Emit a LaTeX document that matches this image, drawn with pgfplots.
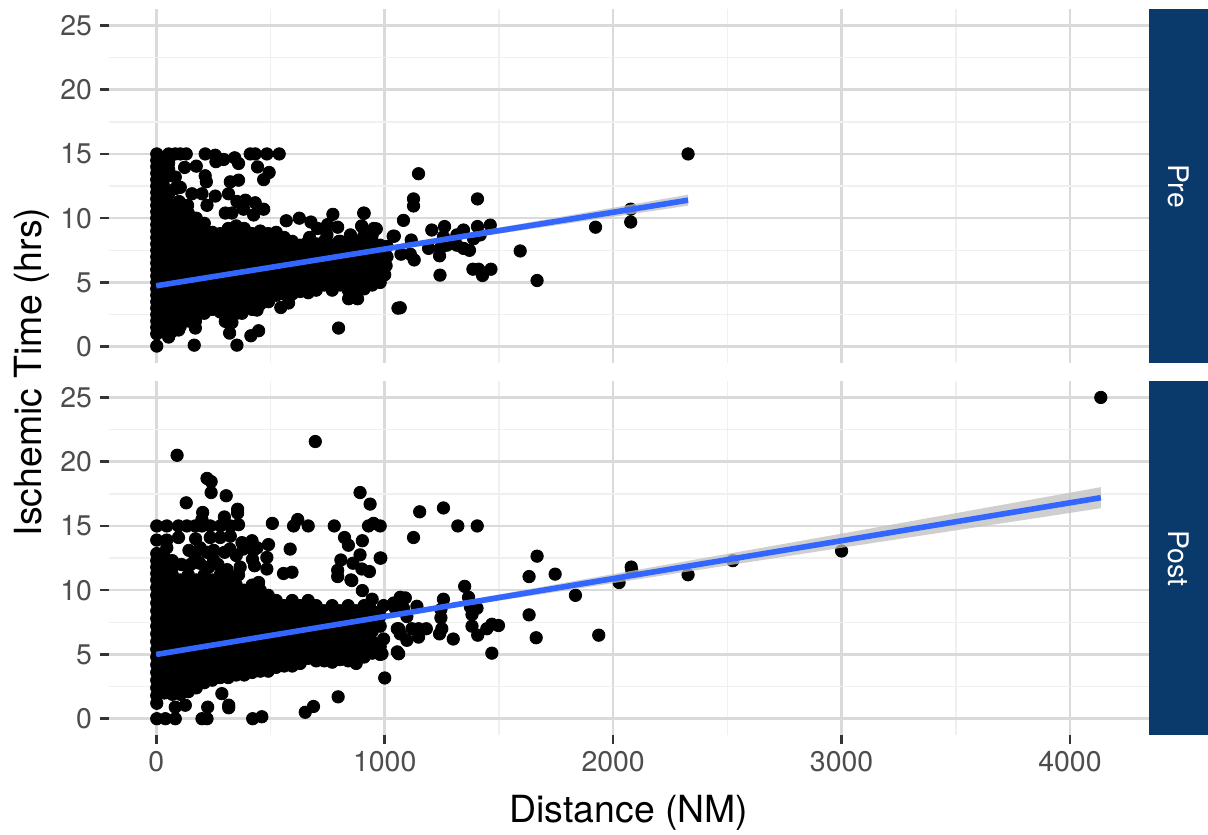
\documentclass[border=0pt]{standalone}
\usepackage{fontspec}
\setmainfont{TeX Gyre Heros}
\usepackage{pgfplots}
\pgfplotsset{compat=1.18}
\definecolor{majgrid}{HTML}{DADADA}
\definecolor{mingrid}{HTML}{F0F0F0}
\definecolor{tickc}{HTML}{333333}
\definecolor{labc}{HTML}{4D4D4D}
\definecolor{stripc}{HTML}{0A3A6B}
\definecolor{fitblue}{HTML}{3366FF}
\pgfplotsset{
  panel/.style={
    scale only axis, width=519.85pt, height=176.85pt, anchor=south west,
    clip mode=individual,
    xmin=-205.8, xmax=4346, ymin=-1.245, ymax=26.28,
    xtick={0,1000,2000,3000,4000},
    minor xtick={500,1500,2500,3500},
    ytick={0,5,10,15,20,25},
    minor ytick={2.5,7.5,12.5,17.5,22.5},
    grid=both,
    major grid style={draw=majgrid,line width=1.25pt},
    minor grid style={draw=mingrid,line width=0.8pt},
    axis line style={draw=none},
    tick align=outside,
    xtick pos=bottom, ytick pos=left,
    major tick length=4.7pt, minor tick length=0pt,
    ytick style={draw=tickc,line width=1.3pt},
    xtick style={draw=tickc,line width=1.3pt},
    minor tick style={draw=none},
    tick label style={font=\fontsize{14.2pt}{17pt}\selectfont,text=labc},
    yticklabel style={xshift=-0.5pt},
    /pgf/number format/assume math mode=true,
    /pgf/number format/1000 sep={},
  },
  pts/.style={only marks,mark=*,mark size=3.1pt,black,mark options={fill=black,draw=none}},
}
\begin{document}
\begin{tikzpicture}[x=1pt,y=1pt]
\useasboundingbox (0,0) rectangle (604,417);
% ---------- Pre
\begin{axis}[panel, at={(54.65pt,235.65pt)},
  xticklabels={}, xtick style={draw=none}]
\addplot[pts] coordinates {
(2,0.05)(2,1)(2,1.5)(2,2)(2,2.5)(2,3)(2,3.5)(2,4)(2,4.5)(2,5)(2,5.5)(2,6)(2,6.5)(2,7)(2,7.5)(2,8)(2,8.5)(2,9)(2,9.5)(2,10)(2,10.5)(2,11)(2,11.5)(2,12)(2,12.5)(2,13)(2,13.5)(2,14)(2,14.5)(2,15)
(30,11.5)(30,12)(30,12.6)(30,13.2)(30,13.8)(30,14.4)(54,11.9)(54,13.3)(54,13.8)(54,14.3)(54,15)(83,13.2)(83,15)(83,12.3)(105,15)(131,15)(105,12.4)
(214,15)(258,14.9)(261,14.4)(295,14.57)(343,14.7)(360,14.26)(411,15)(433,15)(484,15)(538,15)(443,13.99)(494,13.56)(470,13)(124,13.95)(175,14.05)(214,13.3)(219,12.83)(324,12.83)(360,12.96)(156,11.9)(200,11.9)(258,11.72)(316,11.9)(40,11.9)(222,11)(100,11.3)(137,11)(353,11.3)(390,11.4)(433,11.2)(470,10.7)(382,10.7)(302,10.4)(331,10.4)(426,10.25)
(569,9.8)(626,10)(677,9.7)(773,10.3)(908,10.4)(899,9.4)(794,9.3)(750,9.5)(706,9.2)(952,9.2)(945,8.7)(908,8.6)(850,8.7)(800,8.2)(1037,8.6)(671,8.5)(747,8.7)
(842,3.73)(881,3.73)(798,1.45)(1058,3)(545,3.05)(579,3.4)(375,2.6)(441,2.85)(491,3.5)(448,1.24)(414,0.85)(166,0.12)(353,0.12)(321,1.06)(171,1.45)(171,1.97)(302,1.97)(331,1.88)(54,0.75)(98,1.3)
(1148,13.46)(1126,11.5)(1126,10.95)(1406,11.5)(1082,9.83)(910,10.38)(900,9.35)(963,9.17)(1042,8.6)(1206,9.08)(1262,9.35)(1345,9.08)(1316,8.7)(1406,9.35)(1462,9.46)(1116,8.3)(1257,8.56)(1257,8.05)(1389,8.4)(1418,8.7)(1192,7.65)(1243,7.65)(1272,7.9)(1316,7.9)(1345,7.65)(1371,7.5)(1240,7.07)(1071,7.2)(1112,7.2)(1129,6.75)(1593,7.45)(1667,5.15)(1386,6.03)(1411,6.03)(1428,5.54)(1465,6.03)(1242,5.57)(1068,3.03)(1923,9.3)(2077,10.7)(2077,9.7)(2328,15)(1006,6.3)
(35,1.2)(35,2)(35,2.8)(35,3.6)(35,4.4)(35,5.2)(35,6)(35,6.8)(35,7.6)(35,8.4)(35,9.2)(35,10)(35,10.8)
(70,1.2)(70,1.6)(70,2.4)(70,3.2)(70,4)(70,4.8)(70,5.6)(70,6.4)(70,7.2)(70,8)(70,8.8)(70,9.6)(70,10.4)(70,11)
(105,1.6)(105,2)(105,2.8)(105,3.6)(105,4.4)(105,5.2)(105,6)(105,6.8)(105,7.6)(105,8.4)(105,9.2)(105,10)(105,10.8)
(140,2)(140,2.4)(140,3.2)(140,4)(140,4.8)(140,5.6)(140,6.4)(140,7.2)(140,8)(140,8.8)(140,9.6)(140,10.4)
(175,2.4)(175,2.8)(175,3.6)(175,4.4)(175,5.2)(175,6)(175,6.8)(175,7.6)(175,8.4)(175,9.2)(175,10)
(210,2.6)(210,3.2)(210,4)(210,4.8)(210,5.6)(210,6.4)(210,7.2)(210,8)(210,8.8)(210,9.6)
(245,2.9)(245,3.6)(245,4.4)(245,5.2)(245,6)(245,6.8)(245,7.6)(245,8.4)(245,8.9)
(280,2.7)(280,3.2)(280,4)(280,4.8)(280,5.6)(280,6.4)(280,7.2)(280,8)(280,8.8)
(315,2.4)(315,2.8)(315,3.6)(315,4.4)(315,5.2)(315,6)(315,6.8)(315,7.6)(315,8.4)(315,9.2)
(350,2.6)(350,3.2)(350,4)(350,4.8)(350,5.6)(350,6.4)(350,7.2)(350,8)(350,8.8)(350,9.4)
(385,3)(385,3.6)(385,4.4)(385,5.2)(385,6)(385,6.8)(385,7.6)(385,8.4)(385,9.2)
(420,2.9)(420,3.2)(420,4)(420,4.8)(420,5.6)(420,6.4)(420,7.2)(420,8)(420,8.8)
(455,3.3)(455,3.6)(455,4.4)(455,5.2)(455,6)(455,6.8)(455,7.6)(455,8.4)(455,9)
(490,3.6)(490,4)(490,4.8)(490,5.6)(490,6.4)(490,7.2)(490,8)(490,8.8)
(525,4)(525,4.4)(525,5.2)(525,6)(525,6.8)(525,7.6)(525,8.4)(525,8.9)
(560,4.1)(560,4.4)(560,4.8)(560,5.6)(560,6.4)(560,7.2)(560,8)(560,8.5)
(595,4.1)(595,4.4)(595,5.2)(595,6)(595,6.8)(595,7.6)(595,8.2)
(630,4.3)(630,4.8)(630,5.6)(630,6.4)(630,7.2)(630,7.9)
(665,4.2)(665,4.4)(665,5.2)(665,6)(665,6.8)(665,7.6)(665,8.2)
(700,4.4)(700,4.8)(700,5.6)(700,6.4)(700,7.2)(700,8)
(735,4.8)(735,5.2)(735,6)(735,6.8)(735,7.6)(735,8.2)
(770,4.4)(770,4.8)(770,5.6)(770,6.4)(770,7.2)(770,7.9)
(805,4.8)(805,5.2)(805,6)(805,6.8)(805,7.6)(805,8.2)
(840,4.4)(840,4.8)(840,5.6)(840,6.4)(840,7.2)(840,7.9)
(875,4.6)(875,5.2)(875,6)(875,6.8)(875,7.6)(875,8.2)
(910,4.5)(910,4.8)(910,5.6)(910,6.4)(910,7.2)(910,8)
(945,4.8)(945,5.2)(945,6)(945,6.8)(945,7.6)(945,8.2)
(980,5)(980,5.6)(980,6.4)(980,7.2)(980,7.9)
(1000,5.6)(1010,7)(1010,7.8)
};
\addplot[draw=none,fill=gray!50,fill opacity=0.75] coordinates {
(0,4.84)(300,5.66)(1000,7.72)(2328,11.83)(2328,10.97)(1000,7.48)(300,5.54)(0,4.64)} -- cycle;
\addplot[fitblue,line width=2.8pt,line cap=butt] coordinates {(0,4.74)(2328,11.4)};
\end{axis}
% ---------- Post
\begin{axis}[panel, at={(54.65pt,49.65pt)}]
\addplot[pts] coordinates {
(2,0)(40,0)(83,0)(200,0)(222,0)(422,0)(462,0.15)(83,0.9)(127,1.05)(225,0.9)(317,1.05)(317,0.85)(287,1.95)(652,0.5)(688,0.95)(796,1.7)(1000,3.17)
(2,1.2)(2,1.8)(2,2.4)(2,3)(2,3.6)(2,4.2)(2,4.8)(2,5.4)(2,6)(2,6.6)(2,7.2)(2,7.8)(2,8.4)(2,9)(2,9.6)(2,10.2)(2,10.8)(2,11.3)(2,11.8)(2,12.3)(2,12.85)(2,13.9)(2,15)
(91,20.5)(696,21.57)(222,18.7)(240,18.45)(240,17.6)(306,17.35)(131,16.8)(892,17.6)(936,16.7)(356,16.3)(356,16)(203,16.05)(298,15.7)(200,15.5)
(46,15)(97,15)(134,15)(170,15)(508,15.2)(619,15.5)(601,15)(665,15)(779,15)(929,15)(951,15.2)(980,15)(236,15)(280,15)(324,15)(360,15.1)(200,15)
(824,14.1)(841,13.5)(902,13.85)(491,13.55)(586,13.2)(892,12.75)(808,12.35)(980,12.5)(861,12.1)(900,11.65)(933,11.45)(794,11.55)(794,11.06)(852,10.8)(557,11.3)(594,11.4)(367,11.8)(360,11.2)(448,10.6)(484,11.65)(484,12.55)
(419,13.85)(375,13.7)(426,13.1)(441,13.3)(421,12.4)(350,12.7)(299,12.95)(322,13.2)(380,13.2)(46,13.9)(97,14.1)(46,13.3)(172,14)(143,13.1)(40,12.45)(192,13.3)(236,14.1)(280,14.1)(324,14.2)(222,12.95)(251,13.1)
(30,11.9)(70,11.8)(110,12)(150,12)(190,12.1)(230,11.8)(270,12)(310,11.6)(70,12.3)(170,12.6)(250,12.4)(430,11.9)
(1153,16.1)(1257,16.4)(1320,15)(1405,15)(1126,14.1)(983,12.5)(856,10.75)(902,9.97)
(1667,12.65)(1632,11.06)(1746,11.25)(1835,9.6)(1632,8.08)(1663,6.3)(1937,6.5)(2079,11.8)(2082,11.5)(2026,10.6)(2328,11.2)(2524,12.3)(3000,13.05)(4135,25)
(1350,10.3)(1367,9.45)(1257,9.3)(1068,9.45)(1090,9.4)(1039,9)(1141,8.75)(1404,8.6)(1375,8.7)(1382,8.1)(1246,8.5)(1246,7.85)(1250,7)(1240,6.6)(1082,8.6)(1097,7.95)(1061,7)(1119,7)(1148,6.35)(1182,7)(1148,7)(1097,6.1)(1068,6.6)(1061,5.05)(988,5.05)(1300,6.2)(1382,7.2)(1407,6.5)(1447,7)(1469,7.35)(1498,7.25)(1469,5.1)(875,4.3)(945,9.3)(995,8.8)(1046,8.6)(1055,7)(1055,5.2)(995,6.2)
(35,2)(35,2.8)(35,3.6)(35,4.4)(35,5.2)(35,6)(35,6.8)(35,7.6)(35,8.4)(35,9.2)(35,10)(35,10.8)(35,11.4)
(70,1.9)(70,2.4)(70,3.2)(70,4)(70,4.8)(70,5.6)(70,6.4)(70,7.2)(70,8)(70,8.8)(70,9.6)(70,10.4)(70,11.2)
(105,1.9)(105,2)(105,2.8)(105,3.6)(105,4.4)(105,5.2)(105,6)(105,6.8)(105,7.6)(105,8.4)(105,9.2)(105,10)(105,10.8)
(140,2.1)(140,2.4)(140,3.2)(140,4)(140,4.8)(140,5.6)(140,6.4)(140,7.2)(140,8)(140,8.8)(140,9.6)(140,10.4)(140,11.2)
(175,2.4)(175,2.8)(175,3.6)(175,4.4)(175,5.2)(175,6)(175,6.8)(175,7.6)(175,8.4)(175,9.2)(175,10)(175,10.8)
(210,2.8)(210,3.2)(210,4)(210,4.8)(210,5.6)(210,6.4)(210,7.2)(210,8)(210,8.8)(210,9.6)(210,10.4)(210,11.2)
(245,3)(245,3.6)(245,4.4)(245,5.2)(245,6)(245,6.8)(245,7.6)(245,8.4)(245,9.2)(245,10)(245,10.8)
(280,3.2)(280,4)(280,4.8)(280,5.6)(280,6.4)(280,7.2)(280,8)(280,8.8)(280,9.6)(280,10.4)(280,11.2)
(315,3.2)(315,3.6)(315,4.4)(315,5.2)(315,6)(315,6.8)(315,7.6)(315,8.4)(315,9.2)(315,10)(315,10.8)
(350,3.4)(350,4)(350,4.8)(350,5.6)(350,6.4)(350,7.2)(350,8)(350,8.8)(350,9.6)(350,10.4)
(385,3.4)(385,3.6)(385,4.4)(385,5.2)(385,6)(385,6.8)(385,7.6)(385,8.4)(385,9.2)(385,10)
(420,3.6)(420,4)(420,4.8)(420,5.6)(420,6.4)(420,7.2)(420,8)(420,8.8)(420,9.6)(420,10.4)
(455,3.7)(455,4.4)(455,5.2)(455,6)(455,6.8)(455,7.6)(455,8.4)(455,9.2)(455,10)
(490,3.7)(490,4)(490,4.8)(490,5.6)(490,6.4)(490,7.2)(490,8)(490,8.8)(490,9.6)
(525,4)(525,4.4)(525,5.2)(525,6)(525,6.8)(525,7.6)(525,8.4)(525,9.2)
(560,4.1)(560,4.8)(560,5.6)(560,6.4)(560,7.2)(560,8)(560,8.8)
(595,4.1)(595,4.4)(595,5.2)(595,6)(595,6.8)(595,7.6)(595,8.4)(595,9.2)
(630,4.3)(630,4.8)(630,5.6)(630,6.4)(630,7.2)(630,8)(630,8.8)
(665,4.7)(665,5.2)(665,6)(665,6.8)(665,7.6)(665,8.4)(665,9.2)
(700,4.5)(700,4.8)(700,5.6)(700,6.4)(700,7.2)(700,8)(700,8.8)
(735,4.5)(735,5.2)(735,6)(735,6.8)(735,7.6)(735,8.4)
(770,4.4)(770,4.8)(770,5.6)(770,6.4)(770,7.2)(770,8)(770,8.8)
(805,4.6)(805,5.2)(805,6)(805,6.8)(805,7.6)(805,8.4)
(840,4.5)(840,4.8)(840,5.6)(840,6.4)(840,7.2)(840,8)(840,8.8)
(875,4.6)(875,5.2)(875,6)(875,6.8)(875,7.6)(875,8.4)
(910,4.8)(910,5.6)(910,6.4)(910,7.2)(910,8)(910,8.8)
(945,5.1)(945,6)(945,6.8)(945,7.6)(945,8.4)
(980,5)(980,5.6)(980,7.2)(980,8)
};
\addplot[draw=none,fill=gray!50,fill opacity=0.75] coordinates {
(0,5.12)(300,5.94)(1000,8.08)(2000,11.25)(3000,14.4)(4135,18.02)(4135,16.38)(3000,13.3)(2000,10.55)(1000,7.82)(300,5.84)(0,4.88)} -- cycle;
\addplot[fitblue,line width=2.8pt,line cap=butt] coordinates {(0,5)(4135,17.2)};
\end{axis}
% ---------- strips
\fill[stripc] (574.5,235.65) rectangle (604,412.5);
\fill[stripc] (574.5,49.65) rectangle (604,226.5);
\node[rotate=-90,white,font=\fontsize{14.2pt}{17pt}\selectfont] at (589.2,324) {Pre};
\node[rotate=-90,white,font=\fontsize{14.2pt}{17pt}\selectfont] at (589.2,138) {Post};
% ---------- axis titles
\node[rotate=90,font=\fontsize{18.7pt}{22pt}\selectfont] at (16,231) {Ischemic Time (hrs)};
\node[font=\fontsize{18.7pt}{22pt}\selectfont] at (314.5,10.5) {Distance (NM)};
\end{tikzpicture}
\end{document}
